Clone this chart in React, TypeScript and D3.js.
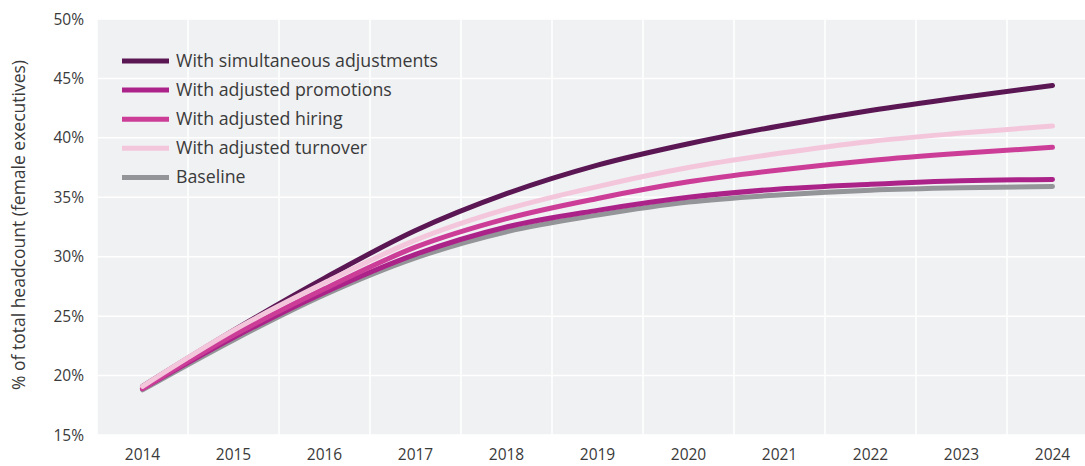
import React from "react";
import * as d3 from "d3";

const years = ["2014","2015","2016","2017","2018","2019","2020","2021","2022","2023","2024"];
const simultaneous = [19.1, 23.8, 28.2, 32.2, 35.3, 37.7, 39.5, 41.0, 42.3, 43.4, 44.4];
const promotions = [18.9, 23.2, 27.0, 30.2, 32.5, 33.9, 35.0, 35.7, 36.1, 36.4, 36.5];
const hiring = [18.9, 23.4, 27.3, 30.8, 33.2, 34.9, 36.3, 37.3, 38.1, 38.7, 39.2];
const turnover = [19.1, 23.8, 27.8, 31.4, 34.0, 35.9, 37.5, 38.7, 39.7, 40.4, 41.0];
const baseline = [18.8, 23.0, 26.8, 29.9, 32.1, 33.5, 34.6, 35.2, 35.6, 35.8, 35.9];
const yTicks = [15, 20, 25, 30, 35, 40, 45, 50];

const legendSeries = [
  { name: "With simultaneous adjustments", values: simultaneous, color: "#5b1654" },
  { name: "With adjusted promotions", values: promotions, color: "#ab2389" },
  { name: "With adjusted hiring", values: hiring, color: "#cc3d98" },
  { name: "With adjusted turnover", values: turnover, color: "#f3c6dc" },
  { name: "Baseline", values: baseline, color: "#949598" },
];
const drawOrder = [4, 0, 1, 2, 3];

const W = 1085, H = 466;
const L = 97, R = 1098, T = 19, B = 435;
const font = "'Open Sans', sans-serif";
const textColor = "#3a3a3a";

export default function App() {
  const x = d3.scaleBand<string>().domain(years).range([L, R]).padding(0);
  const y = d3.scaleLinear().domain([15, 50]).range([B, T]);
  const cx = (yr: string) => (x(yr) as number) + x.bandwidth() / 2;
  const line = d3
    .line<number>()
    .x((_, i) => cx(years[i]))
    .y((d) => y(d))
    .curve(d3.curveMonotoneX);

  return (
    <svg width={W} height={H} style={{ position: "absolute", left: 0, top: 0, background: "#fff" }}>
      <defs>
        <clipPath id="plot">
          <rect x={L} y={T} width={R - L} height={B - T} />
        </clipPath>
      </defs>
      <rect x={L} y={T} width={R - L} height={B - T} fill="#f0f1f3" />
      {yTicks.map((t) => (
        <line key={"h" + t} x1={L} x2={R} y1={y(t)} y2={y(t)} stroke="#fff" strokeWidth={1.5} />
      ))}
      {years.map((yr) => (
        <line key={"v" + yr} x1={x(yr) as number} x2={x(yr) as number} y1={T} y2={B} stroke="#fff" strokeWidth={1.5} />
      ))}
      {yTicks.map((t) => (
        <text key={"yt" + t} x={84} y={y(t) + 5.5} textAnchor="end" fontFamily={font} fontSize={15.5} fill={textColor}>
          {t}%
        </text>
      ))}
      {years.map((yr) => (
        <text key={"xt" + yr} x={cx(yr)} y={460} textAnchor="middle" fontFamily={font} fontSize={15.5} fill={textColor}>
          {yr}
        </text>
      ))}
      <text
        transform={`translate(25,${(T + B) / 2 - 2}) rotate(-90)`}
        textAnchor="middle"
        fontFamily={font}
        fontSize={17.5}
        fill={textColor}
      >
        % of total headcount (female executives)
      </text>
      <g clipPath="url(#plot)">
        {drawOrder.map((i) => (
          <path
            key={"l" + i}
            d={line(legendSeries[i].values) as string}
            fill="none"
            stroke={legendSeries[i].color}
            strokeWidth={5}
            strokeLinecap="round"
          />
        ))}
      </g>
      {legendSeries.map((s, i) => (
        <g key={"lg" + i} transform={`translate(122,${61 + i * 29.1})`}>
          <line x1={0} x2={47} y1={0} y2={0} stroke={s.color} strokeWidth={5} />
          <text x={54} y={6} fontFamily={font} fontSize={17.75} fill={textColor}>
            {s.name}
          </text>
        </g>
      ))}
    </svg>
  );
}
